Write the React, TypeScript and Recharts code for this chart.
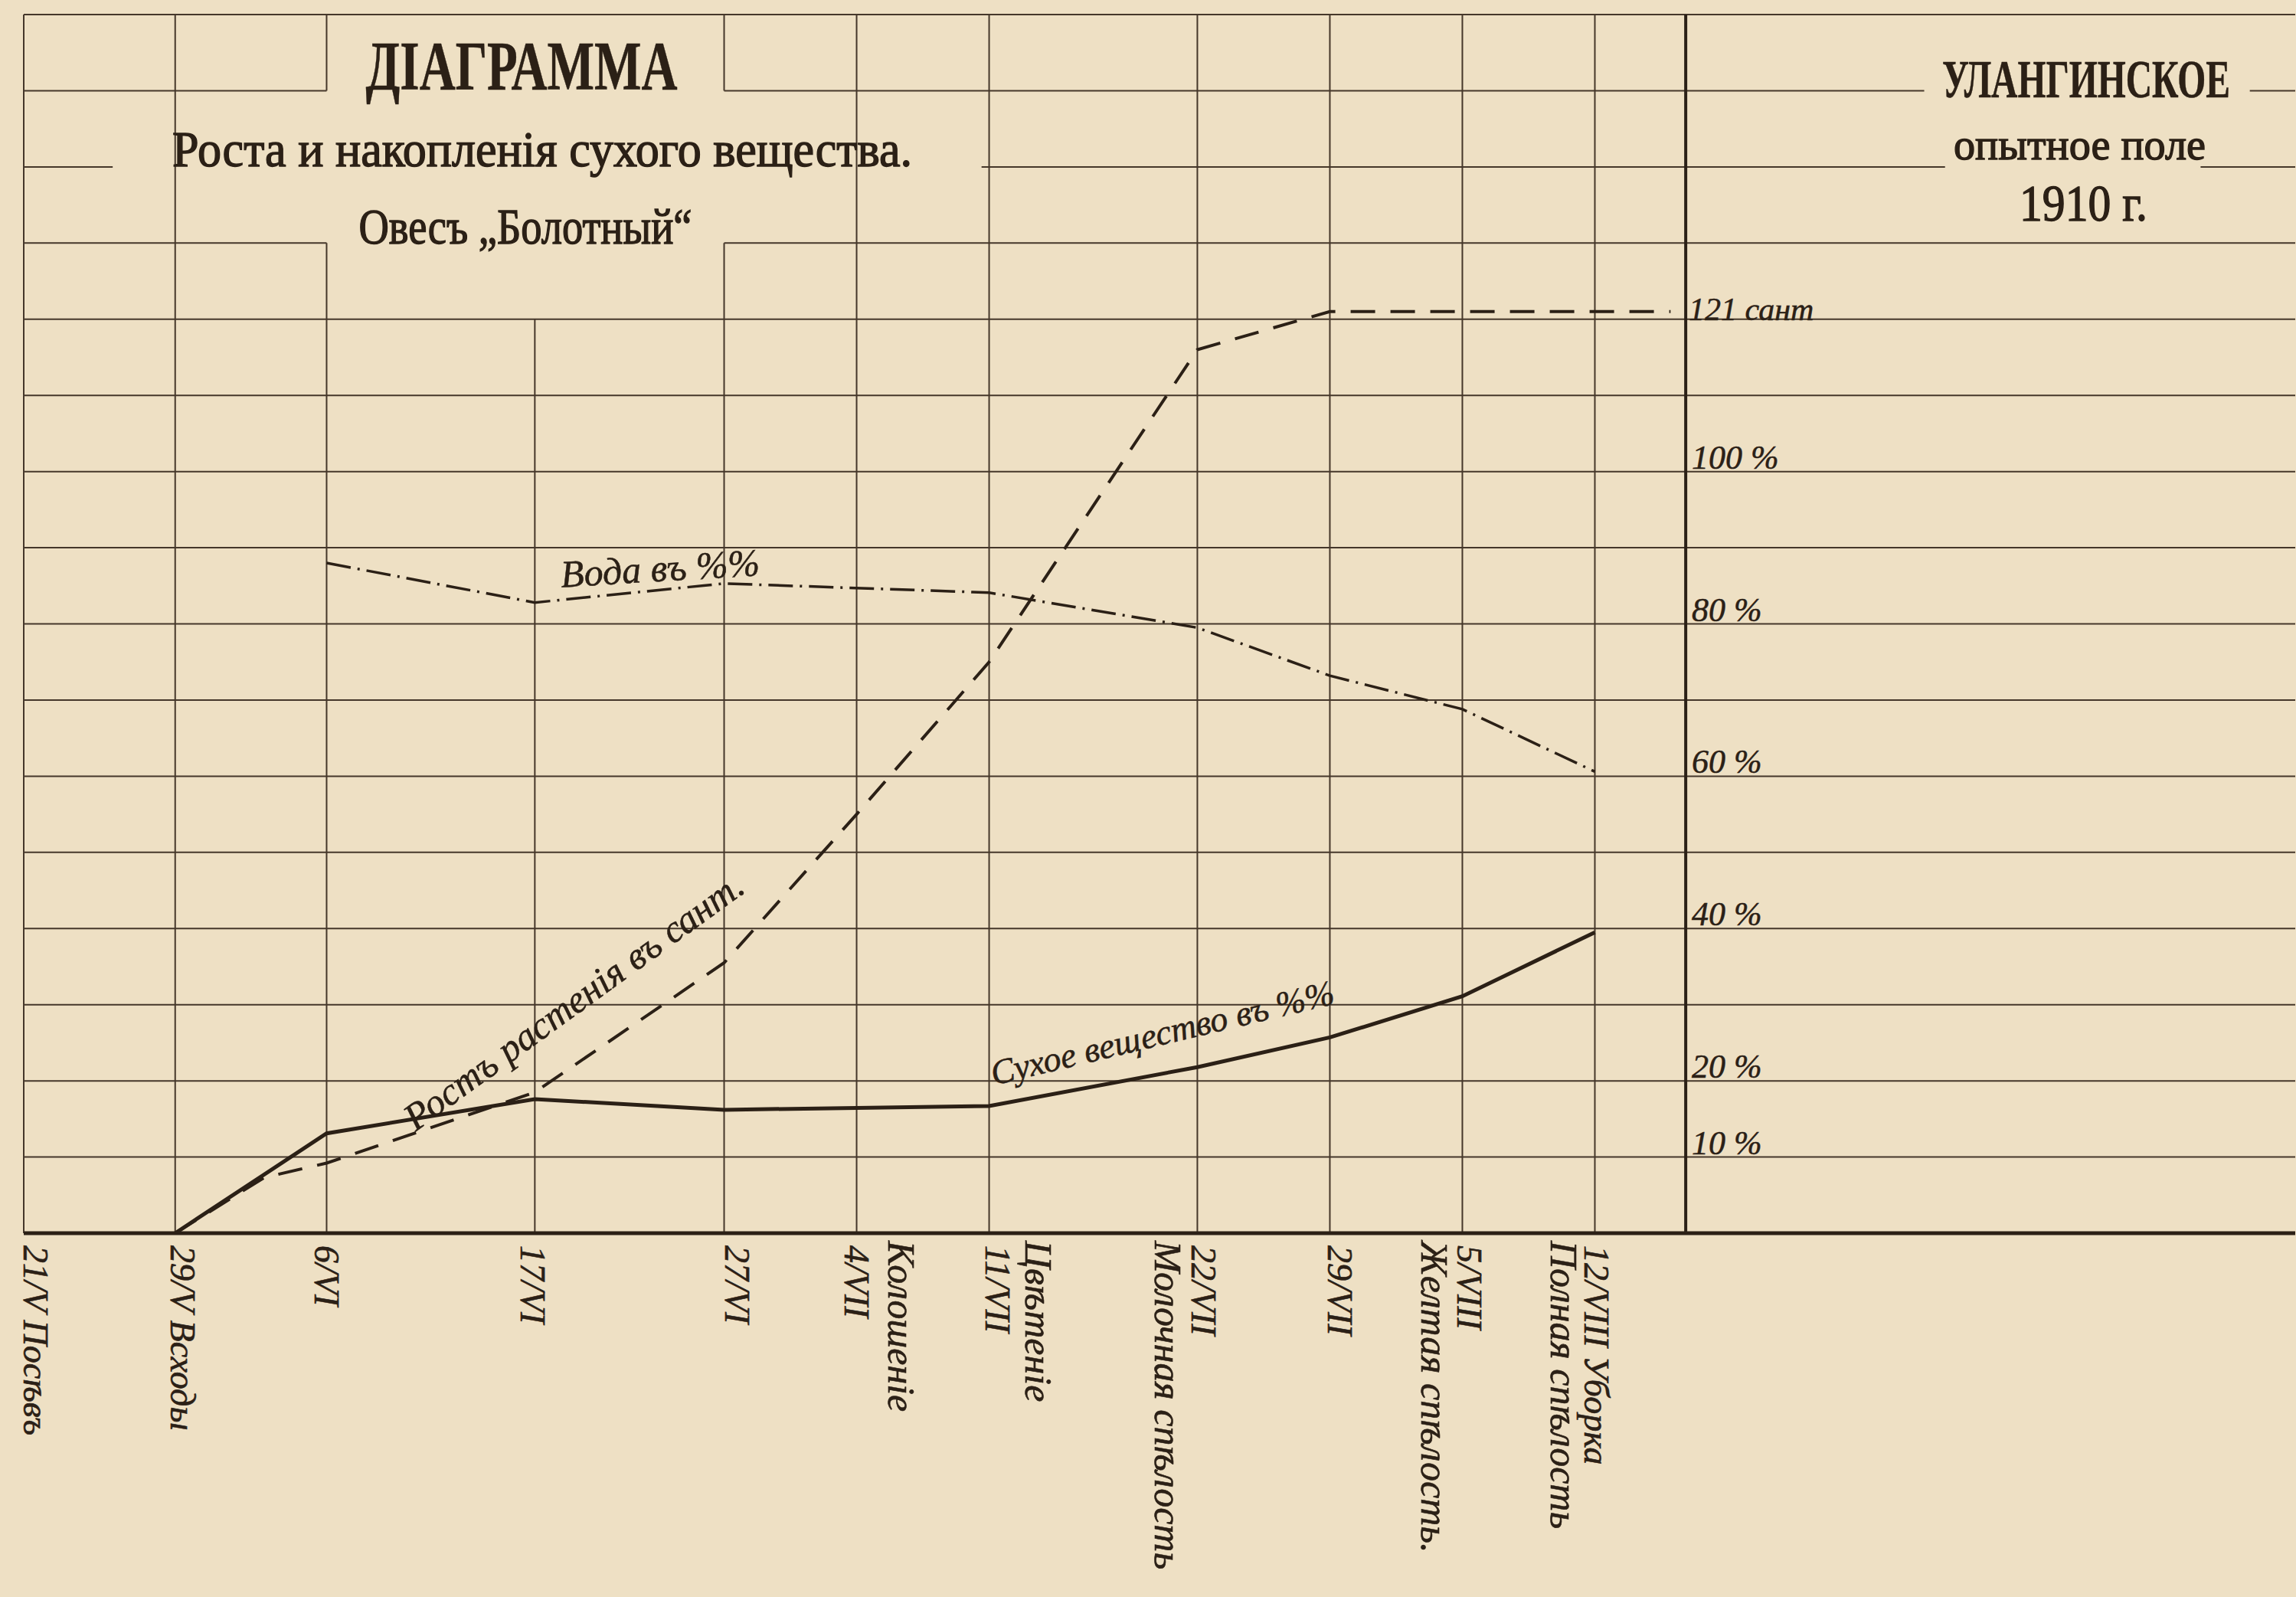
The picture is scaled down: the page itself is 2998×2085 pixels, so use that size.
import React, { useEffect } from "react";
import { LineChart, Line, XAxis, YAxis, ReferenceLine, ReferenceDot } from "recharts";

// x-axis counts days from 21/V (sowing)
const dateDays = [0, 8, 16, 27, 37, 44, 51, 62, 69, 76, 83];
const dateLabels = [
  "21/V Посѣвъ", "29/V Всходы", "6/VI", "17/VI", "27/VI", "4/VII",
  "11/VII", "22/VII", "29/VII", "5/VIII", "12/VIII Уборка",
];
const phaseLabels = [
  "", "", "", "", "", "Колошеніе", "Цвѣтеніе", "Молочная спѣлость",
  "", "Желтая спѣлость.", "Полная спѣлость",
];

// Ростъ растенія въ сант.
const heightDays = [8, 12.7, 16, 27, 37, 44, 51, 62, 69, 76, 83, 87];
const heightCm = [0, 7.3, 9.2, 18.5, 35.5, 55, 75, 116, 121, 121, 121, 121];

// Вода въ %%
const waterDays = [16, 27, 37, 51, 62, 69, 76, 83];
const waterPct = [88, 82.8, 85.3, 84.1, 79.5, 73.2, 68.8, 60.6];

// Сухое вещество въ %%
const dryDays = [8, 16, 27, 37, 51, 62, 69, 76, 83];
const dryPct = [0, 13.1, 17.6, 16.2, 16.7, 21.8, 25.7, 31.1, 39.5];

const pctTicks = [10, 20, 40, 60, 80, 100];
const maxHeightLabel = "121 сант";

// layout
const W = 2998;
const H = 2085;
const PAPER = "#eee0c4";
const INK = "#2b2016";
const GRID = "#45372a";
const HAND = "'Liberation Serif', 'DejaVu Serif', serif";
const PRINT = "'Liberation Serif', serif";
const X_MAX = 120;
const Y_MAX = 160;
const BORDER_DAY = 87.8;

// offsets of the two rotated label columns from each date line
const dateDx = [15, 10, 0, -3, 17, 0, 11, 8, 13, 9, 2];
const phaseDx = [0, 0, 0, 0, 0, 58, 64, -38, 0, -36, -40];

// grid lines are broken where the printed titles sit
const gridValues = Array.from({ length: 16 }, (_, i) => (i + 1) * 10);
const hSpans: Record<number, number[][]> = {
  150: [[0, 16], [37, 100.4], [117.6, X_MAX]],
  140: [[0, 4.7], [50.6, 101.5], [115, X_MAX]],
  130: [[0, 16], [37, X_MAX]],
};
const vSpans: Record<number, number[][]> = {
  16: [[0, 130], [150, 160]],
  27: [[0, 120]],
  37: [[0, 130], [150, 160]],
};

const toRows = (days: number[], vals: number[]) => days.map((d, i) => ({ day: d, v: vals[i] }));

function DateTick(props: any) {
  const { x, y, payload } = props;
  const i = dateDays.indexOf(payload.value);
  if (i < 0) return <g />;
  return (
    <g fontFamily={HAND} fontStyle="italic" fill={INK} stroke={INK} strokeWidth={0.6}>
      <text
        transform={`translate(${x + dateDx[i]}, ${y + 16}) rotate(90)`}
        dominantBaseline="central"
        fontSize={46}
      >
        {dateLabels[i]}
      </text>
      {phaseLabels[i] && (
        <text
          transform={`translate(${x + phaseDx[i]}, ${y + 10}) rotate(90)`}
          dominantBaseline="central"
          fontSize={50}
        >
          {phaseLabels[i]}
        </text>
      )}
    </g>
  );
}

function note(text: string, angle: number, size: number, dx = 0, dy = 0) {
  return (p: any) => (
    <text
      x={p.cx + dx}
      y={p.cy + dy}
      transform={`rotate(${angle} ${p.cx} ${p.cy})`}
      fontFamily={HAND}
      fontStyle="italic"
      fontSize={size}
      fill={INK}
      stroke={INK}
      strokeWidth={0.5}
    >
      {text}
    </text>
  );
}

export default function App() {
  useEffect(() => {
    document.body.style.margin = "0";
    document.body.style.background = PAPER;
  }, []);

  return (
    <div style={{ position: "relative", width: W, height: H, background: PAPER }}>
      <LineChart width={W} height={H} margin={{ top: 19, right: 1, left: 31, bottom: 0 }}>
        <XAxis
          type="number"
          dataKey="day"
          domain={[0, X_MAX]}
          ticks={dateDays}
          interval={0}
          height={475}
          tickSize={0}
          tickMargin={0}
          tickLine={false}
          axisLine={{ stroke: INK, strokeWidth: 5 }}
          tick={DateTick}
        />
        <YAxis type="number" dataKey="v" domain={[0, Y_MAX]} hide allowDataOverflow />

        {gridValues.flatMap((v) =>
          (hSpans[v] ?? [[0, X_MAX]]).map(([a, b], k) => (
            <ReferenceLine
              key={`h${v}-${k}`}
              segment={[{ x: a, y: v }, { x: b, y: v }]}
              stroke={GRID}
              strokeWidth={2}
              ifOverflow="visible"
            />
          ))
        )}
        {dateDays.flatMap((d) =>
          (vSpans[d] ?? [[0, Y_MAX]]).map(([a, b], k) => (
            <ReferenceLine
              key={`v${d}-${k}`}
              segment={[{ x: d, y: a }, { x: d, y: b }]}
              stroke={GRID}
              strokeWidth={2}
              ifOverflow="visible"
            />
          ))
        )}
        <ReferenceLine
          segment={[{ x: BORDER_DAY, y: 0 }, { x: BORDER_DAY, y: Y_MAX }]}
          stroke={INK}
          strokeWidth={4}
          ifOverflow="visible"
        />

        <Line
          data={toRows(heightDays, heightCm)}
          dataKey="v"
          type="linear"
          stroke={INK}
          strokeWidth={4}
          strokeDasharray="32 20"
          dot={false}
          activeDot={false}
          isAnimationActive={false}
        />
        <Line
          data={toRows(waterDays, waterPct)}
          dataKey="v"
          type="linear"
          stroke={INK}
          strokeWidth={3.5}
          strokeDasharray="32 9 3 9"
          dot={false}
          activeDot={false}
          isAnimationActive={false}
        />
        <Line
          data={toRows(dryDays, dryPct)}
          dataKey="v"
          type="linear"
          stroke={INK}
          strokeWidth={5}
          dot={false}
          activeDot={false}
          isAnimationActive={false}
        />

        {pctTicks.map((v) => (
          <ReferenceDot key={`p${v}`} x={BORDER_DAY} y={v} r={0} shape={note(`${v} %`, 0, 44, 8, -4)} />
        ))}
        <ReferenceDot x={BORDER_DAY} y={121} r={0} shape={note(maxHeightLabel, 0, 42, 4, 11)} />
        <ReferenceDot x={28.4} y={84.8} r={0} shape={note("Вода въ %%", -3.5, 50)} />
        <ReferenceDot x={20.7} y={13.3} r={0} shape={note("Ростъ растенія въ сант.", -36, 50)} />
        <ReferenceDot x={51.25} y={19.4} r={0} shape={note("Сухое вещество въ %%", -13.5, 46)} />
      </LineChart>

      <svg
        width={W}
        height={H}
        style={{ position: "absolute", left: 0, top: 0, pointerEvents: "none" }}
      >
        <g fontFamily={PRINT} fill={INK} stroke={INK}>
          <text x={681} y={117} textAnchor="middle" fontSize={90} fontWeight="bold" strokeWidth={0.5} textLength={407} lengthAdjust="spacingAndGlyphs">
            ДІАГРАММА
          </text>
          <text x={708} y={217} textAnchor="middle" fontSize={66} strokeWidth={1.4} textLength={966} lengthAdjust="spacingAndGlyphs">
            Роста и накопленія сухого вещества.
          </text>
          <text x={686} y={318} textAnchor="middle" fontSize={66} strokeWidth={1.4} textLength={435} lengthAdjust="spacingAndGlyphs">
            Овесъ „Болотный“
          </text>
          <text x={2912} y={127} textAnchor="end" fontSize={70} fontWeight="bold" strokeWidth={0.5} textLength={376} lengthAdjust="spacingAndGlyphs">
            УЛАНГИНСКОЕ
          </text>
          <text x={2880} y={208} textAnchor="end" fontSize={58} strokeWidth={1.4} textLength={329} lengthAdjust="spacingAndGlyphs">
            опытное поле
          </text>
          <text x={2804} y={288} textAnchor="end" fontSize={68} strokeWidth={1.4} textLength={167} lengthAdjust="spacingAndGlyphs">
            1910 г.
          </text>
        </g>
      </svg>
    </div>
  );
}
